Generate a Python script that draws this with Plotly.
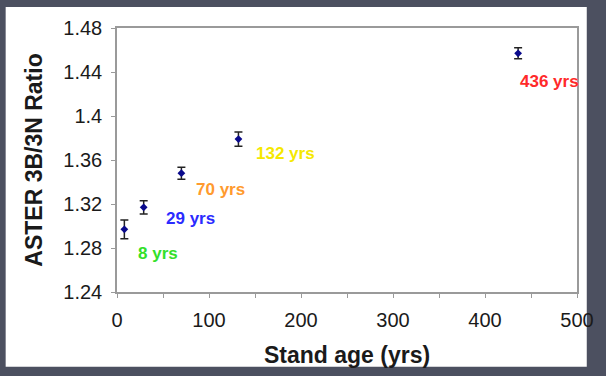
import plotly.graph_objects as go

# Stand age (years) and ASTER band 3B/3N ratio with standard errors
stand_age = [8, 29, 70, 132, 436]
ratio = [1.297, 1.317, 1.348, 1.379, 1.457]
ratio_err = [0.0085, 0.006, 0.0055, 0.0065, 0.005]
age_labels = ["8 yrs", "29 yrs", "70 yrs", "132 yrs", "436 yrs"]

y_ticks = [1.24, 1.28, 1.32, 1.36, 1.40, 1.44, 1.48]
y_ticktext = ["1.24", "1.28", "1.32", "1.36", "1.4", "1.44", "1.48"]
x_ticks = [0, 100, 200, 300, 400, 500]

label_colors = ["#33e02a", "#2b2bff", "#ff9a2e", "#f5e800", "#ff2a2a"]
label_shift = [(12, -24), (20, -11), (13, -16), (16, -14), (0, -28)]

FONT = "Liberation Sans, Arial, sans-serif"
FRAME = "#4c5060"
AXIS = "#9a9a9a"

fig = go.Figure()
fig.add_trace(go.Scatter(
    x=stand_age, y=ratio, mode="markers",
    marker=dict(symbol="diamond", size=6, color="#0a0a8c"),
    error_y=dict(type="data", array=ratio_err, color="#222222",
                 thickness=1.5, width=4),
    showlegend=False,
))

for x, y, txt, col, (dx, dy) in zip(stand_age, ratio, age_labels, label_colors, label_shift):
    fig.add_annotation(
        x=x, y=y, text=f"<b>{txt}</b>", showarrow=False,
        xanchor="left", yanchor="middle", xshift=dx, yshift=dy,
        font=dict(family=FONT, size=17, color=col),
    )

# white slide area inside the dark frame
fig.add_shape(type="rect", xref="paper", yref="paper",
              x0=-117/471 + 3/471, x1=1 + 10/471,
              y0=-(83 - 8)/265, y1=1 + 21/265,
              fillcolor="white", line=dict(width=0), layer="below")

fig.update_layout(
    width=606, height=376,
    margin=dict(l=117, r=18, t=28, b=83),
    paper_bgcolor=FRAME, plot_bgcolor="white",
    font=dict(family=FONT, color="#1a1a1a"),
    xaxis=dict(
        range=[0, 500], tickvals=x_ticks, showgrid=False, zeroline=False,
        showline=True, linecolor=AXIS, linewidth=1.5, mirror=True,
        ticks="outside", ticklen=4, tickcolor=AXIS, tickwidth=1,
        minor=dict(dtick=50, ticks="outside", ticklen=4, tickcolor=AXIS),
        tickfont=dict(size=20), ticklabelstandoff=5,
        title=dict(text="<b>Stand age (yrs)</b>", font=dict(size=23), standoff=17),
    ),
    yaxis=dict(
        range=[1.24, 1.48], tickvals=y_ticks, ticktext=y_ticktext,
        showgrid=False, zeroline=False,
        showline=True, linecolor=AXIS, linewidth=1.5, mirror=True,
        ticks="outside", ticklen=4, tickcolor=AXIS, tickwidth=1,
        tickfont=dict(size=20), ticklabelstandoff=5,
        title=dict(text="<b>ASTER 3B/3N Ratio</b>", font=dict(size=23), standoff=14),
    ),
)

fig.write_html("out.html")
